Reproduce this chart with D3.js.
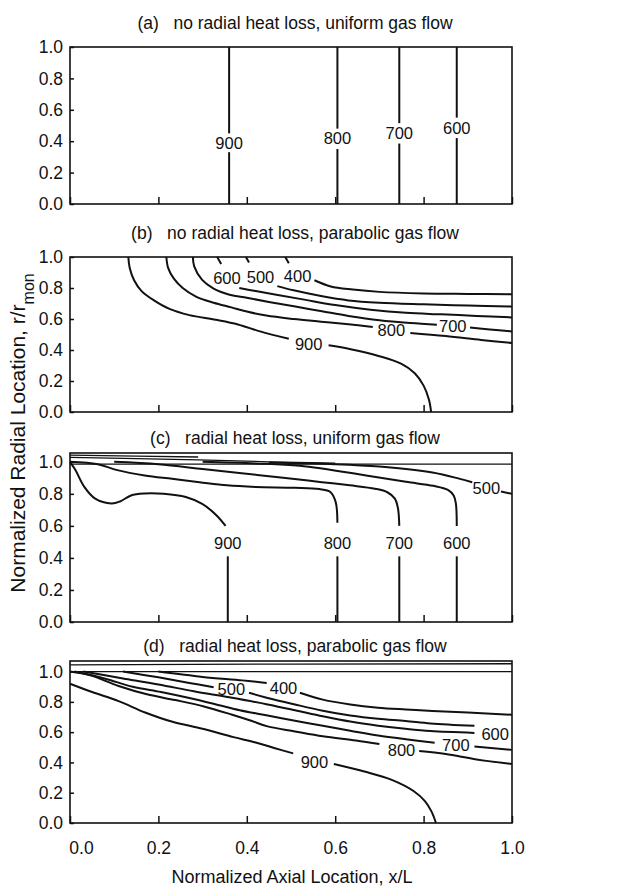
<!DOCTYPE html>
<html>
<head>
<meta charset="utf-8">
<script src="https://cdn.jsdelivr.net/npm/d3@7"></script>
<style>
  body { margin: 0; background: #fff; }
  text { font-family: "Liberation Sans", Arial, Helvetica, sans-serif; fill: #111; }
</style>
</head>
<body>
<svg id="chart" width="631" height="890"></svg>
<script>
// ---- data ----------------------------------------------------------------
const xTicks = [0, 0.2, 0.4, 0.6, 0.8, 1.0];
const yTicks = [0, 0.2, 0.4, 0.6, 0.8, 1.0];
const panelTitles = [
  "(a)   no radial heat loss, uniform gas flow",
  "(b)   no radial heat loss, parabolic gas flow",
  "(c)   radial heat loss, uniform gas flow",
  "(d)   radial heat loss, parabolic gas flow"
];
const xAxisTitle = "Normalized Axial Location, x/L";
const yAxisTitle = "Normalized Radial Location, r/r";
const yAxisSub = "mon";
const yDomainTops = [1.0, 1.0, 1.055, 1.07];

// isotherms: level (K), polyline pieces (x/L, r/rmon), label position
const contoursA = [
  { level: 900, segs: [[[0.36, 1.0], [0.36, 0.45]], [[0.36, 0.33], [0.36, 0]]], label: [0.36, 0.386] },
  { level: 800, segs: [[[0.605, 1.0], [0.605, 0.48]], [[0.605, 0.35], [0.605, 0]]], label: [0.605, 0.417] },
  { level: 700, segs: [[[0.745, 1.0], [0.745, 0.515]], [[0.745, 0.385], [0.745, 0]]], label: [0.745, 0.45] },
  { level: 600, segs: [[[0.875, 1.0], [0.875, 0.55]], [[0.875, 0.42], [0.875, 0]]], label: [0.875, 0.485] }
];

const contoursB = [
  { level: 900, segs: [
      [[0.132, 1.0], [0.135, 0.93], [0.145, 0.85], [0.162, 0.78], [0.19, 0.72], [0.225, 0.665], [0.27, 0.625], [0.33, 0.595], [0.38, 0.565], [0.43, 0.52], [0.495, 0.472]],
      [[0.585, 0.43], [0.635, 0.405], [0.70, 0.36], [0.75, 0.31], [0.78, 0.25], [0.80, 0.17], [0.812, 0.08], [0.817, 0]]
    ], label: [0.54, 0.44] },
  { level: 800, segs: [
      [[0.218, 1.0], [0.222, 0.93], [0.235, 0.86], [0.255, 0.80], [0.285, 0.745], [0.325, 0.705], [0.365, 0.675], [0.40, 0.648], [0.444, 0.622], [0.506, 0.60], [0.568, 0.583], [0.63, 0.566], [0.685, 0.548]],
      [[0.77, 0.51], [0.85, 0.49], [0.93, 0.465], [1.0, 0.445]]
    ], label: [0.727, 0.527] },
  { level: 700, segs: [
      [[0.278, 1.0], [0.281, 0.94], [0.299, 0.852], [0.324, 0.798], [0.361, 0.757], [0.40, 0.737], [0.45, 0.71], [0.51, 0.68], [0.57, 0.65], [0.63, 0.62], [0.70, 0.592], [0.77, 0.574], [0.83, 0.563]],
      [[0.905, 0.545], [0.95, 0.532], [1.0, 0.52]]
    ], label: [0.866, 0.555] },
  { level: 600, segs: [
      [[0.333, 1.0], [0.342, 0.955]],
      [[0.383, 0.80], [0.42, 0.78], [0.47, 0.755], [0.53, 0.725], [0.60, 0.69], [0.68, 0.66], [0.76, 0.64], [0.84, 0.63], [0.92, 0.62], [1.0, 0.61]]
    ], label: [0.355, 0.865] },
  { level: 500, segs: [
      [[0.398, 1.0], [0.405, 0.965]],
      [[0.469, 0.812], [0.506, 0.785], [0.568, 0.748], [0.63, 0.72], [0.70, 0.705], [0.80, 0.695], [0.90, 0.687], [1.0, 0.68]]
    ], label: [0.431, 0.87] },
  { level: 400, segs: [
      [[0.487, 1.0], [0.495, 0.96]],
      [[0.553, 0.85], [0.59, 0.81], [0.64, 0.79], [0.70, 0.775], [0.80, 0.765], [0.90, 0.762], [1.0, 0.76]]
    ], label: [0.515, 0.88] }
];

const contoursC = [
  { level: 900, segs: [
      [[0, 1.0], [0.012, 0.95], [0.032, 0.845], [0.057, 0.77], [0.094, 0.74], [0.113, 0.752], [0.138, 0.79], [0.169, 0.802], [0.212, 0.80], [0.262, 0.78], [0.299, 0.737], [0.33, 0.67], [0.352, 0.60]],
      [[0.357, 0.41], [0.357, 0]]
    ], label: [0.357, 0.49] },
  { level: 800, segs: [
      [[0, 1.0], [0.063, 0.985], [0.107, 0.948], [0.169, 0.915], [0.231, 0.894], [0.293, 0.873], [0.355, 0.853], [0.42, 0.843], [0.508, 0.838], [0.564, 0.83], [0.589, 0.812], [0.601, 0.75], [0.605, 0.62]],
      [[0.605, 0.41], [0.605, 0]]
    ], label: [0.605, 0.49] },
  { level: 700, segs: [
      [[0.10, 1.0], [0.20, 0.985], [0.30, 0.955], [0.383, 0.93], [0.445, 0.912], [0.508, 0.893], [0.57, 0.873], [0.633, 0.853], [0.69, 0.832], [0.718, 0.81], [0.735, 0.77], [0.742, 0.71], [0.745, 0.60]],
      [[0.745, 0.41], [0.745, 0]]
    ], label: [0.745, 0.49] },
  { level: 600, segs: [
      [[0.30, 1.0], [0.42, 0.99], [0.52, 0.975], [0.67, 0.915], [0.76, 0.875], [0.822, 0.85], [0.855, 0.825], [0.868, 0.79], [0.873, 0.74], [0.875, 0.60]],
      [[0.875, 0.41], [0.875, 0]]
    ], label: [0.875, 0.49] },
  { level: 500, segs: [
      [[0.45, 0.995], [0.60, 0.985], [0.70, 0.97], [0.82, 0.933], [0.88, 0.895], [0.91, 0.872]],
      [[0.975, 0.815], [1.0, 0.80]]
    ], label: [0.942, 0.838] }
];
const wallC = [
  [[0, 0.985], [1.0, 0.985]],
  [[0, 1.042], [0.15, 1.036], [0.29, 1.03]],
  [[0, 1.028], [0.15, 1.02], [0.29, 1.012], [0.45, 1.0], [0.60, 0.992]]
];

const contoursD = [
  { level: 900, segs: [
      [[0, 0.92], [0.05, 0.865], [0.11, 0.805], [0.17, 0.73], [0.23, 0.67], [0.30, 0.622], [0.37, 0.567], [0.42, 0.532], [0.46, 0.497], [0.505, 0.46]],
      [[0.597, 0.39], [0.666, 0.34], [0.728, 0.285], [0.778, 0.21], [0.803, 0.145], [0.818, 0.075], [0.828, 0]]
    ], label: [0.553, 0.40] },
  { level: 800, segs: [
      [[0, 1.0], [0.046, 0.975], [0.11, 0.905], [0.174, 0.85], [0.238, 0.812], [0.303, 0.77], [0.367, 0.715], [0.41, 0.675], [0.447, 0.638], [0.509, 0.605], [0.572, 0.573], [0.647, 0.545], [0.70, 0.522]],
      [[0.79, 0.475], [0.85, 0.455], [0.92, 0.42], [1.0, 0.39]]
    ], label: [0.75, 0.485] },
  { level: 700, segs: [
      [[0.01, 1.0], [0.078, 0.955], [0.142, 0.90], [0.206, 0.865], [0.27, 0.825], [0.335, 0.78], [0.384, 0.745], [0.447, 0.71], [0.509, 0.675], [0.572, 0.642], [0.634, 0.61], [0.697, 0.578], [0.76, 0.553], [0.825, 0.53]],
      [[0.915, 0.505], [1.0, 0.483]]
    ], label: [0.873, 0.515] },
  { level: 600, segs: [
      [[0.03, 1.0], [0.12, 0.955], [0.20, 0.915], [0.28, 0.87], [0.36, 0.83], [0.447, 0.783], [0.509, 0.745], [0.572, 0.705], [0.634, 0.67], [0.697, 0.643], [0.759, 0.622], [0.816, 0.607], [0.915, 0.595]]
    ], label: [0.962, 0.585] },
  { level: 500, segs: [
      [[0.12, 1.0], [0.20, 0.962], [0.27, 0.925], [0.325, 0.897]],
      [[0.405, 0.86], [0.447, 0.826], [0.509, 0.783], [0.572, 0.742], [0.634, 0.71], [0.697, 0.688], [0.759, 0.674], [0.816, 0.658], [0.915, 0.642]]
    ], label: [0.365, 0.885] },
  { level: 400, segs: [
      [[0.20, 1.0], [0.30, 0.965], [0.39, 0.942], [0.445, 0.925]],
      [[0.52, 0.86], [0.572, 0.815], [0.634, 0.783], [0.697, 0.762], [0.76, 0.75], [0.82, 0.74], [0.90, 0.73], [1.0, 0.715]]
    ], label: [0.483, 0.89] }
];
const wallD = [
  [[0, 1.0], [1.0, 1.0]],
  [[0, 1.045], [0.5, 1.05], [1.0, 1.052]]
];

// ---- layout --------------------------------------------------------------
const layout = [
  { top: 47,  bottom: 204, titleY: 29,  contours: contoursA, walls: [] },
  { top: 257, bottom: 412, titleY: 239, contours: contoursB, walls: [] },
  { top: 453, bottom: 622, titleY: 444, contours: contoursC, walls: wallC },
  { top: 661, bottom: 823, titleY: 652, contours: contoursD, walls: wallD }
];
const xLeft = 70, xRight = 512;
const fontSize = 17.5, labelSize = 16.5;

const svg = d3.select("#chart");
const x = d3.scaleLinear().domain([0, 1]).range([xLeft, xRight]);

layout.forEach((p, i) => {
  const y = d3.scaleLinear().domain([0, yDomainTops[i]]).range([p.bottom, p.top]);
  const g = svg.append("g");
  const line = d3.line().x(d => x(d[0])).y(d => y(d[1])).curve(d3.curveCatmullRom.alpha(0.5));

  // title
  g.append("text")
    .attr("x", 295).attr("y", p.titleY)
    .attr("text-anchor", "middle")
    .attr("font-size", fontSize)
    .style("white-space", "pre")
    .text(panelTitles[i]);

  // y axis (inward ticks)
  const ya = g.append("g").attr("transform", `translate(${xLeft},0)`)
    .call(d3.axisLeft(y).tickValues(yTicks).tickFormat(d3.format(".1f")).tickSize(-4).tickSizeOuter(0).tickPadding(7));
  ya.select(".domain").remove();
  ya.selectAll("line").attr("stroke", "#111").attr("stroke-width", 1.5);
  ya.selectAll("text").attr("font-size", fontSize).attr("font-family", "Liberation Sans, Arial, sans-serif").attr("fill", "#111");

  // x axis (inward ticks, labels only on the last panel)
  const last = i === layout.length - 1;
  const xa = g.append("g").attr("transform", `translate(0,${p.bottom})`)
    .call(d3.axisBottom(x).tickValues(xTicks).tickFormat(last ? d3.format(".1f") : () => "")
      .tickSize(-7).tickSizeOuter(0).tickPadding(19));
  xa.select(".domain").remove();
  xa.selectAll("line").attr("stroke", "#111").attr("stroke-width", 1.5);
  xa.selectAll("text").attr("font-size", fontSize).attr("font-family", "Liberation Sans, Arial, sans-serif").attr("fill", "#111");
  if (last) xa.selectAll(".tick text").filter(d => d === 0).attr("dx", 11);

  // wall / edge lines
  g.selectAll("path.wall").data(p.walls).join("path")
    .attr("class", "wall")
    .attr("d", d3.line().x(d => x(d[0])).y(d => y(d[1])))
    .attr("fill", "none").attr("stroke", "#111").attr("stroke-width", 1.3);

  // isotherms
  p.contours.forEach(c => {
    g.selectAll(null).data(c.segs).join("path")
      .attr("d", line)
      .attr("fill", "none").attr("stroke", "#111").attr("stroke-width", 2)
      .attr("stroke-linejoin", "round").attr("stroke-linecap", "butt");
    g.append("text")
      .attr("x", x(c.label[0])).attr("y", y(c.label[1]))
      .attr("dy", "0.36em")
      .attr("text-anchor", "middle")
      .attr("font-size", labelSize)
      .text(c.level);
  });

  // frame
  g.append("rect")
    .attr("x", xLeft).attr("y", p.top)
    .attr("width", xRight - xLeft).attr("height", p.bottom - p.top)
    .attr("fill", "none").attr("stroke", "#111").attr("stroke-width", 1.6);
});

// axis titles
svg.append("text")
  .attr("x", (xLeft + xRight) / 2 + 1).attr("y", 883)
  .attr("text-anchor", "middle").attr("font-size", 18)
  .text(xAxisTitle);

const yt = svg.append("text")
  .attr("transform", "translate(25,433) rotate(-90)")
  .attr("text-anchor", "middle").attr("font-size", 21);
yt.append("tspan").text(yAxisTitle);
yt.append("tspan").attr("baseline-shift", "sub").attr("font-size", 16).text(yAxisSub);
</script>
</body>
</html>
